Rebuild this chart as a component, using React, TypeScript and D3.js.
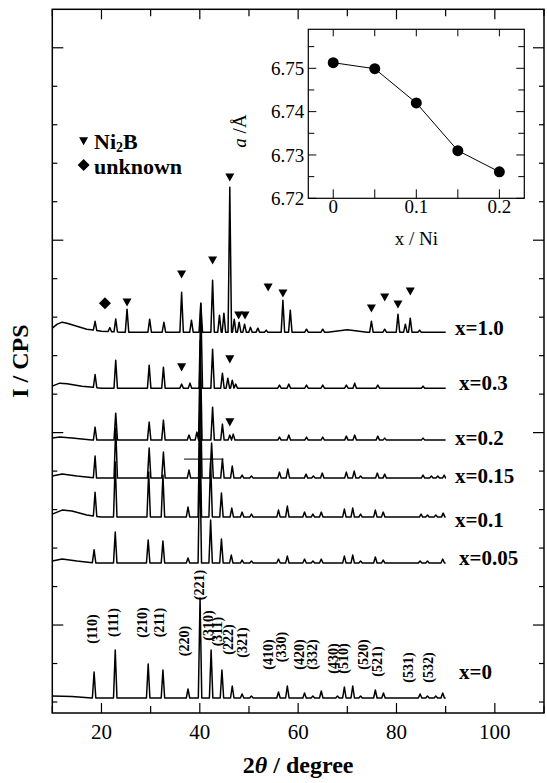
import React from 'react';
import * as d3 from 'd3';

const W = 547;
const H = 783;
const FONT = '"Liberation Serif", "Times New Roman", serif';

// main axis
const X_DOMAIN: [number, number] = [10, 110];
const Y_DOMAIN: [number, number] = [-11, 693];
const Y_TICK_STEP = 38.5;
const X_TICKS = [10, 20, 30, 40, 50, 60, 70, 80, 90, 100, 110];
const X_TICK_LABELS = [20, 40, 60, 80, 100];

// samples
const sampleLabels = ['x=1.0', 'x=0.3', 'x=0.2', 'x=0.15', 'x=0.1', 'x=0.05', 'x=0'];
const sampleOffsets = [370, 314, 262, 224, 185, 139, 4];
const labelPos2T = [91.9, 92.7, 91.9, 91.9, 91.9, 92.7, 92.7];
const labelPosV = [367, 312, 257, 219, 175, 137, 23];

// background (relative to offset)
const bgX10: [number, number][] = [[10, 4], [11, 8], [12, 10], [13, 9], [15, 6], [17, 3], [20, 1], [24, 0], [66, 0], [70, 2.5], [74, 0], [90, 0]];
const bgX03: [number, number][] = [[10, 2], [11.5, 5], [13, 4.5], [16, 2], [20, 0], [90, 0]];
const bgX02: [number, number][] = [[10, 2], [11.5, 3], [14, 2], [18, 0], [90, 0]];
const bgX015: [number, number][] = [[10, 2], [12, 4], [15, 2], [19, 0], [90, 0]];
const bgX01: [number, number][] = [[10, 3], [12, 7], [14, 6], [17, 2], [20, 0], [90, 0]];
const bgX005: [number, number][] = [[10, 2], [12, 4], [15, 2], [19, 0], [90, 0]];
const bgX0: [number, number][] = [[10, 2], [14, 1.5], [18, 0], [90, 0]];

// peaks [2theta, height]
const peaksX10: [number, number][] = [[18.7, 9], [21.7, 4], [22.9, 13], [25.2, 23], [29.8, 13], [32.7, 10], [36.3, 40], [38.3, 12], [40.2, 29], [42.6, 52], [44.0, 17], [44.9, 19], [46.1, 145], [47.0, 13], [48.0, 10], [49.1, 8], [50.3, 5], [51.8, 4], [53.5, 2], [56.9, 32], [58.4, 22], [61.7, 3], [65.0, 3], [74.9, 11], [77.6, 3], [80.3, 18], [81.8, 8], [82.8, 14], [84.7, 2]];
const peaksX03: [number, number][] = [[18.7, 13], [22.9, 28], [29.7, 23], [32.6, 21], [36.3, 4], [38.0, 5], [40.2, 85], [42.6, 39], [44.6, 15], [45.7, 10], [46.6, 8], [47.3, 4], [56.2, 3], [58.1, 4], [61.7, 3], [65.0, 3], [69.8, 3], [71.5, 5], [76.2, 3], [85.4, 2]];
const peaksX02: [number, number][] = [[18.7, 13], [22.9, 27], [29.7, 18], [32.6, 20], [37.8, 5], [39.4, 8], [40.1, 100], [42.6, 33], [44.6, 16], [46.1, 5], [46.8, 6], [56.2, 3], [58.1, 5], [61.7, 3], [65.0, 3], [69.8, 4], [71.5, 5], [76.2, 4], [77.6, 2], [85.4, 2]];
const peaksX015: [number, number][] = [[18.7, 22], [22.9, 50], [29.7, 30], [32.6, 26], [37.8, 8], [40.1, 100], [42.4, 35], [44.6, 19], [46.6, 12], [48.6, 3], [50.5, 2], [56.2, 6], [57.9, 9], [61.6, 4], [63.1, 2], [64.9, 5], [69.8, 6], [71.4, 7], [72.7, 2], [76.1, 5], [77.6, 4], [85.4, 3], [87.1, 2], [88.4, 2], [89.7, 3]];
const peaksX01: [number, number][] = [[18.7, 24], [22.8, 55], [29.6, 45], [32.5, 42], [37.6, 10], [40.0, 100], [42.2, 55], [44.4, 24], [46.5, 9], [48.6, 5], [50.5, 3], [56.0, 7], [57.8, 11], [61.3, 5], [63.0, 3], [64.7, 5], [69.4, 8], [71.1, 9], [72.7, 3], [75.7, 7], [77.3, 5], [85.0, 3], [86.3, 2], [88.0, 2], [89.5, 4]];
const peaksX005: [number, number][] = [[18.5, 13], [22.8, 31], [29.5, 23], [32.5, 22], [37.6, 5], [40.0, 110], [42.2, 43], [44.4, 24], [46.4, 8], [48.6, 3], [50.5, 2], [56.0, 4], [57.8, 7], [61.3, 4], [63.0, 2], [64.7, 4], [69.4, 7], [71.1, 8], [72.7, 2], [75.7, 6], [77.3, 3], [84.8, 2], [86.3, 2], [89.4, 4]];
const peaksX0: [number, number][] = [[18.5, 26], [22.8, 48], [29.5, 34], [32.5, 28], [37.6, 9], [40.05, 100], [42.3, 48], [44.5, 28], [46.6, 12], [48.6, 4], [50.5, 2], [56.0, 6], [57.8, 12], [61.3, 5], [63.0, 2], [64.7, 7], [68.0, 2], [69.4, 11], [71.1, 12], [72.7, 2], [75.7, 8], [77.35, 5], [84.8, 4], [86.3, 2], [88.0, 2], [89.4, 5]];

const sampleBackgrounds = [bgX10, bgX03, bgX02, bgX015, bgX01, bgX005, bgX0];
const samplePeaks = [peaksX10, peaksX03, peaksX02, peaksX015, peaksX01, peaksX005, peaksX0];

// hkl labels [text, 2theta, y]
const hklLabels: [string, number, number][] = [
  ['(110)', 18.01, 73], ['(111)', 22.28, 79.5], ['(210)', 28.18, 79.5], ['(211)', 31.7, 79.5],
  ['(220)', 36.78, 61], ['(221)', 39.9, 117], ['(310)', 41.6, 76.5], ['(311)', 43.43, 70.5],
  ['(222)', 45.79, 62.5], ['(321)', 48.52, 59.5], ['(410)', 53.8, 47.5], ['(330)', 56.45, 55],
  ['(420)', 60.11, 47.5], ['(332)', 62.88, 47.5], ['(430)', 67.03, 43.5], ['(510)', 69.06, 43.5],
  ['(520)', 73.25, 47.5], ['(521)', 76.1, 40.5], ['(531)', 82.4, 34.5], ['(532)', 86.47, 34.5],
];

// markers
const ni2bMarkers: [number, number][] = [[25.2, 400], [36.3, 428], [42.6, 442], [46.1, 525], [47.9, 387], [49.2, 387], [53.9, 415], [56.9, 409], [74.9, 394], [77.6, 405], [80.3, 398], [82.8, 411], [36.3, 335], [46.1, 343], [46.1, 280]];
const unknownMarkers: [number, number][] = [[20.7, 399]];
const stray: [number, number][] = [[36.8, 243], [44.8, 243]];

// inset
const insetX = [0, 0.05, 0.1, 0.15, 0.2];
const insetA = [6.7513, 6.7499, 6.742, 6.731, 6.7261];
const INSET_X_DOMAIN: [number, number] = [-0.03, 0.23];
const INSET_Y_DOMAIN: [number, number] = [6.72, 6.759];
const INSET_Y_TICKS = [6.72, 6.73, 6.74, 6.75];
const INSET_Y_MINOR = [6.725, 6.735, 6.745, 6.755];
const INSET_X_LABELS = [0, 0.1, 0.2];

const PEAK_HALF = 0.35;

function buildPoints(bg: [number, number][], peaks: [number, number][], offset: number): [number, number][] {
  const bgScale = d3.scaleLinear().domain(bg.map(d => d[0])).range(bg.map(d => d[1])).clamp(true);
  const pts: [number, number][] = bg.map(d => [d[0], d[1] + offset]);
  peaks.forEach(([p, h]) => {
    pts.push([p - PEAK_HALF, bgScale(p - PEAK_HALF) + offset]);
    pts.push([p, bgScale(p) + h + offset]);
    pts.push([p + PEAK_HALF, bgScale(p + PEAK_HALF) + offset]);
  });
  pts.sort((a, b) => a[0] - b[0]);
  return pts;
}

export default function App() {
  const x = d3.scaleLinear().domain(X_DOMAIN).range([52.3, 544]);
  const y = d3.scaleLinear().domain(Y_DOMAIN).range([713, 9.3]);
  const line = d3.line<[number, number]>().x(d => x(d[0])).y(d => y(d[1]));

  const ix = d3.scaleLinear().domain(INSET_X_DOMAIN).range([308.3, 524.3]);
  const iy = d3.scaleLinear().domain(INSET_Y_DOMAIN).range([198.3, 29.3]);
  const iline = d3.line<number>().x((_, i) => ix(insetX[i])).y(d => iy(d));

  const x0 = x.range()[0], x1 = x.range()[1];
  const y0 = y.range()[0], y1 = y.range()[1];
  const yTicks = d3.range(0, 18).map(k => k * Y_TICK_STEP);

  const tri = (cx: number, cy: number, s = 9) => `M${cx - s / 2},${cy - s * 0.42}L${cx + s / 2},${cy - s * 0.42}L${cx},${cy + s * 0.48}Z`;
  const dia = (cx: number, cy: number, s = 6) => `M${cx},${cy - s}L${cx + s},${cy}L${cx},${cy + s}L${cx - s},${cy}Z`;

  const ix0 = ix.range()[0], ix1 = ix.range()[1];
  const iy0 = iy.range()[0], iy1 = iy.range()[1];

  return (
    <svg width={W} height={H} style={{ position: 'absolute', left: 0, top: 0, background: '#fff' }} fontFamily={FONT}>
      <rect x={0} y={0} width={W} height={H} fill="#fff" />
      {/* traces */}
      {samplePeaks.map((pk, i) => (
        <path key={i} d={line(buildPoints(sampleBackgrounds[i], pk, sampleOffsets[i])) || ''} fill="none" stroke="#000" strokeWidth={1.5} strokeLinejoin="round" />
      ))}
      <path d={line(stray) || ''} stroke="#000" strokeWidth={1} fill="none" />
      {/* sample labels */}
      {sampleLabels.map((t, i) => (
        <text key={t} x={x(labelPos2T[i])} y={y(labelPosV[i])} fontSize={21} fontWeight="bold">{t}</text>
      ))}
      {/* hkl labels */}
      {hklLabels.map(([t, p, v]) => (
        <text key={t} transform={`translate(${x(p)},${y(v)}) rotate(-90)`} textAnchor="middle" dy="0.35em" fontSize={14} fontWeight="bold">{t}</text>
      ))}
      {/* markers */}
      {ni2bMarkers.map(([p, v], i) => <path key={'n' + i} d={tri(x(p), y(v))} fill="#000" />)}
      {unknownMarkers.map(([p, v], i) => <path key={'u' + i} d={dia(x(p), y(v))} fill="#000" />)}
      {/* legend */}
      <path d={tri(83.6, 141)} fill="#000" />
      <text x={94} y={148.5} fontSize={22} fontWeight="bold">Ni<tspan fontSize={14} dy={3}>2</tspan><tspan dy={-3}>B</tspan></text>
      <path d={dia(83.6, 165)} fill="#000" />
      <text x={94} y={174} fontSize={22} fontWeight="bold">unknown</text>

      {/* frame */}
      <rect x={x0} y={y1} width={x1 - x0} height={y0 - y1} fill="none" stroke="#000" strokeWidth={1.5} />
      {X_TICKS.map(t => {
        const major = X_TICK_LABELS.includes(t);
        const L = major ? 10 : 7;
        return (
          <g key={t}>
            <line x1={x(t)} x2={x(t)} y1={y0} y2={y0 - L} stroke="#000" strokeWidth={1.2} />
            <line x1={x(t)} x2={x(t)} y1={y1} y2={y1 + L} stroke="#000" strokeWidth={1.2} />
          </g>
        );
      })}
      {X_TICK_LABELS.map(t => (
        <text key={t} x={x(t)} y={739} textAnchor="middle" fontSize={21}>{t}</text>
      ))}
      {yTicks.map((t, k) => {
        const L = k % 5 === 2 ? 11 : 5;
        return (
          <g key={k}>
            <line x1={x0} x2={x0 + L} y1={y(t)} y2={y(t)} stroke="#000" strokeWidth={1.2} />
            <line x1={x1} x2={x1 - L} y1={y(t)} y2={y(t)} stroke="#000" strokeWidth={1.2} />
          </g>
        );
      })}
      <text x={(x0 + x1) / 2} y={773} textAnchor="middle" fontSize={24} fontWeight="bold">2<tspan fontStyle="italic">θ</tspan> / degree</text>
      <text transform={`translate(28,${(y0 + y1) / 2}) rotate(-90)`} textAnchor="middle" fontSize={24} fontWeight="bold">I / CPS</text>

      {/* inset */}
      <rect x={ix0} y={iy1} width={ix1 - ix0} height={iy0 - iy1} fill="#fff" stroke="#000" strokeWidth={1.2} />
      {insetX.map(t => (
        <g key={t}>
          <line x1={ix(t)} x2={ix(t)} y1={iy0} y2={iy0 - 9} stroke="#000" strokeWidth={1} />
          <line x1={ix(t)} x2={ix(t)} y1={iy1} y2={iy1 + 7} stroke="#000" strokeWidth={1} />
        </g>
      ))}
      {INSET_Y_TICKS.map(t => (
        <g key={t}>
          <line x1={ix0} x2={ix0 + 8} y1={iy(t)} y2={iy(t)} stroke="#000" strokeWidth={1} />
          <line x1={ix1} x2={ix1 - 8} y1={iy(t)} y2={iy(t)} stroke="#000" strokeWidth={1} />
          <text x={ix0 - 4} y={iy(t)} dy="0.35em" textAnchor="end" fontSize={19}>{t.toFixed(2)}</text>
        </g>
      ))}
      {INSET_Y_MINOR.map(t => (
        <g key={t}>
          <line x1={ix0} x2={ix0 + 6} y1={iy(t)} y2={iy(t)} stroke="#000" strokeWidth={1} />
          <line x1={ix1} x2={ix1 - 6} y1={iy(t)} y2={iy(t)} stroke="#000" strokeWidth={1} />
        </g>
      ))}
      {INSET_X_LABELS.map(t => (
        <text key={t} x={ix(t)} y={213} textAnchor="middle" fontSize={19}>{String(t)}</text>
      ))}
      <text x={(ix0 + ix1) / 2} y={245} textAnchor="middle" fontSize={19}>x  /  Ni</text>
      <text transform={`translate(246,131) rotate(-90)`} textAnchor="middle" fontSize={19}><tspan fontStyle="italic">a</tspan> /Å</text>
      <path d={iline(insetA) || ''} fill="none" stroke="#000" strokeWidth={1} />
      {insetA.map((a, i) => <circle key={i} cx={ix(insetX[i])} cy={iy(a)} r={5.5} fill="#000" />)}
    </svg>
  );
}
